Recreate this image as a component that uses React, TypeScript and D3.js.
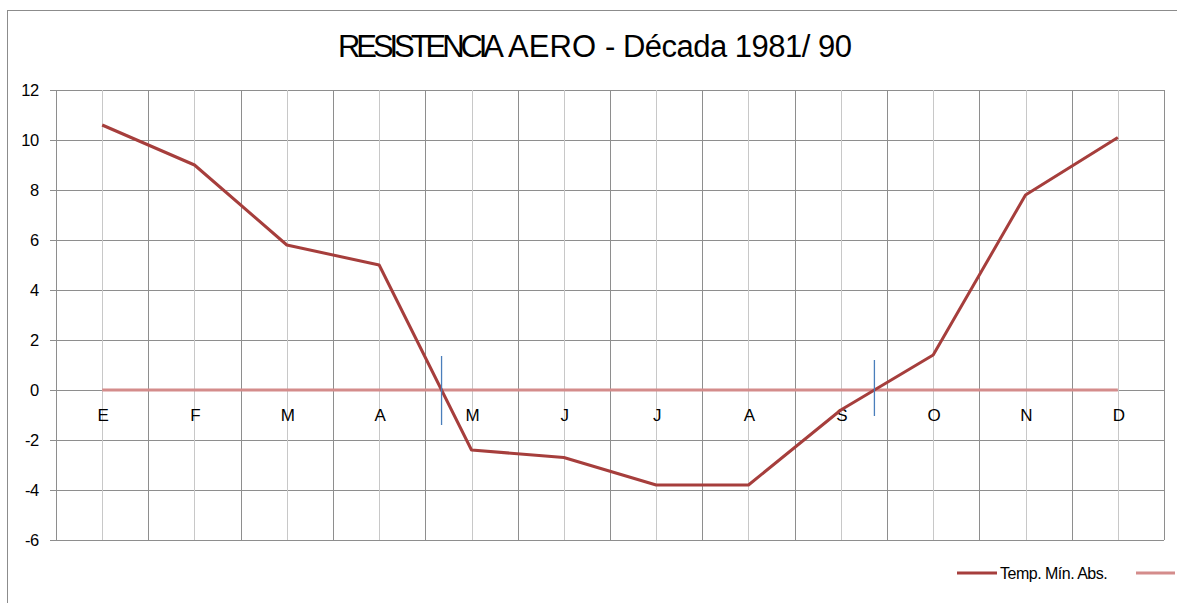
import * as d3 from "d3";

const months = ["E", "F", "M", "A", "M", "J", "J", "A", "S", "O", "N", "D"];
const tempMinAbs = [10.6, 9.0, 5.8, 5.0, -2.4, -2.7, -3.8, -3.8, -0.8, 1.4, 7.8, 10.1];
const zeroSeries = [0, 0, 0, 0, 0, 0, 0, 0, 0, 0, 0, 0];
const yTicks = [-6, -4, -2, 0, 2, 4, 6, 8, 10, 12];

const W = 1177;
const H = 603;
const margin = { top: 90, bottom: 63, left: 56, right: 13 };
const font = "'Liberation Sans', Arial, sans-serif";
const dark = "#a63e3c";
const pink = "#d48c8b";

// title pieces: squeezed like the original rendering
const titleParts = [
  { t: "RESISTENCIA", x: 338, len: 166 },
  { t: "AERO", x: 508, len: 88 },
  { t: "- Década 1981/ 90", x: 605, len: 247 },
];

const App = () => {
  const idx = months.map((_, i) => i);
  const x = d3
    .scaleBand<number>()
    .domain(idx)
    .range([margin.left, W - margin.right])
    .padding(0);
  const bw = x.bandwidth();
  const cx = (i: number) => (x(i) as number) + bw / 2;
  const y = d3.scaleLinear().domain([-6, 12]).range([H - margin.bottom, margin.top]);

  const line = d3
    .line<number>()
    .x((_, i) => cx(i))
    .y((d) => y(d));

  // points where the curve crosses zero
  const crossings: number[] = [];
  for (let i = 0; i < tempMinAbs.length - 1; i++) {
    const a = tempMinAbs[i];
    const b = tempMinAbs[i + 1];
    if ((a > 0 && b < 0) || (a < 0 && b > 0)) {
      crossings.push(cx(i) + (bw * a) / (a - b));
    }
  }
  const markUp = [34, 30];
  const markDown = [35, 26];

  return (
    <svg
      width={W}
      height={H}
      style={{ position: "absolute", left: 0, top: 0, background: "#fff" }}
    >
      <rect x={7.5} y={10.5} width={W + 10} height={H + 10} fill="#fff" stroke="#8c8c8c" />
      {titleParts.map((p) => (
        <text
          key={p.t}
          x={p.x}
          y={57}
          fontFamily={font}
          fontSize={31}
          textLength={p.len}
          lengthAdjust="spacing"
          fill="#000"
        >
          {p.t}
        </text>
      ))}

      {/* horizontal grid */}
      {yTicks.map((t) => (
        <g key={t}>
          <line
            x1={margin.left - 6}
            x2={W - margin.right}
            y1={Math.round(y(t)) + 0.5}
            y2={Math.round(y(t)) + 0.5}
            stroke="#8e8e8e"
          />
          <text
            x={39}
            y={y(t) + 6}
            textAnchor="end"
            fontFamily={font}
            fontSize={16.5}
            letterSpacing={-0.3}
          >
            {t}
          </text>
        </g>
      ))}

      {/* vertical grid: centers (light) and boundaries (dark) */}
      {idx.map((i) => (
        <line
          key={"c" + i}
          x1={Math.round(cx(i)) + 0.5}
          x2={Math.round(cx(i)) + 0.5}
          y1={margin.top}
          y2={H - margin.bottom}
          stroke="#c8c8c8"
        />
      ))}
      {d3.range(13).map((i) => (
        <line
          key={"b" + i}
          x1={Math.round(margin.left + i * bw) + 0.5}
          x2={Math.round(margin.left + i * bw) + 0.5}
          y1={margin.top}
          y2={H - margin.bottom}
          stroke="#8e8e8e"
        />
      ))}

      {/* category labels beside zero axis */}
      {months.map((m, i) => (
        <text
          key={"m" + i}
          x={cx(i) + 1}
          y={y(0) + 31}
          textAnchor="middle"
          fontFamily={font}
          fontSize={17}
        >
          {m}
        </text>
      ))}

      <path d={line(zeroSeries) as string} fill="none" stroke={pink} strokeWidth={3} />
      <path
        d={line(tempMinAbs) as string}
        fill="none"
        stroke={dark}
        strokeWidth={3}
        strokeLinejoin="round"
      />

      {crossings.map((c, k) => (
        <line
          key={"x" + k}
          x1={c}
          x2={c}
          y1={y(0) - markUp[k]}
          y2={y(0) + markDown[k]}
          stroke="#4a7ebb"
          strokeWidth={1.3}
        />
      ))}

      {/* legend */}
      <line x1={957} x2={997} y1={573} y2={573} stroke={dark} strokeWidth={3} />
      <text x={1000} y={579} fontFamily={font} fontSize={16} letterSpacing={-0.5}>
        Temp. Mín. Abs.
      </text>
      <line x1={1136} x2={1175} y1={573} y2={573} stroke={pink} strokeWidth={3} />
    </svg>
  );
};

export default App;
